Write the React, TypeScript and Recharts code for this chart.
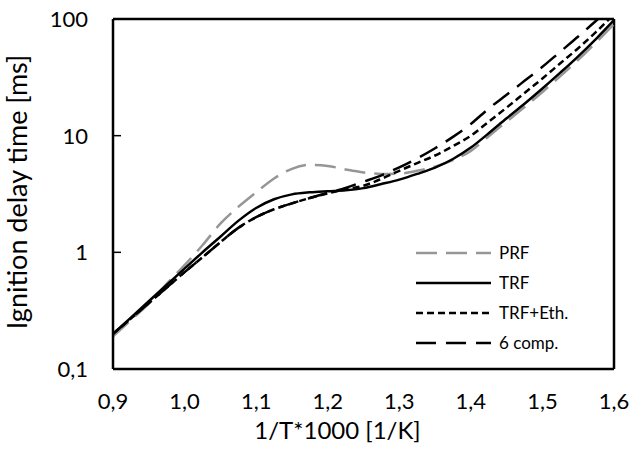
import React from "react";
import { LineChart, Line, XAxis, YAxis, ReferenceLine, Legend, Label } from "recharts";

// 1/T*1000 [1/K]
const xValues = [
  0.9, 0.925, 0.95, 0.975, 1.0, 1.025, 1.05, 1.075, 1.1, 1.125, 1.15, 1.175, 1.2, 1.225, 1.25,
  1.275, 1.3, 1.325, 1.35, 1.375, 1.4, 1.425, 1.45, 1.475, 1.5, 1.525, 1.55, 1.575, 1.6,
];

// ignition delay time [ms]
const prf = [
  0.19, 0.263, 0.363, 0.537, 0.776, 1.15, 1.76, 2.45, 3.27, 4.3, 5.19, 5.62, 5.5, 5.13, 4.84,
  4.7, 4.73, 5.0, 5.43, 6.17, 7.41, 9.9, 13.2, 17.6, 23.7, 32.4, 44.7, 63.1, 90.2,
];
const trf = [
  0.2, 0.276, 0.381, 0.526, 0.726, 1.0, 1.36, 1.86, 2.4, 2.85, 3.14, 3.27, 3.34, 3.4, 3.55,
  3.85, 4.2, 4.7, 5.33, 6.31, 7.9, 10.5, 14.1, 18.8, 25.4, 34.7, 47.9, 67.6, 97.7,
];
const trfEth = [
  0.2, 0.271, 0.367, 0.498, 0.676, 0.906, 1.22, 1.62, 2.0, 2.34, 2.63, 2.92, 3.2, 3.47, 3.72,
  4.27, 5.0, 5.82, 6.76, 8.13, 10.0, 13.2, 17.4, 23.2, 30.9, 41.7, 56.2, 77.6, 110,
];
const sixComp = [
  0.2, 0.271, 0.367, 0.498, 0.676, 0.906, 1.22, 1.62, 2.0, 2.34, 2.63, 2.92, 3.24, 3.57, 4.03,
  4.57, 5.35, 6.38, 7.8, 9.77, 12.6, 17.1, 22.4, 29.5, 38.9, 52.5, 70.8, 96.6, 132,
];

const xTicks = [0.9, 1.0, 1.1, 1.2, 1.3, 1.4, 1.5, 1.6];
const yTicks = [0.1, 1, 10, 100];

const series = [
  { key: "prf", name: "PRF", color: "#969696", dash: "21 9" },
  { key: "trf", name: "TRF", color: "#000000", dash: undefined },
  { key: "eth", name: "TRF+Eth.", color: "#000000", dash: "7 4" },
  { key: "six", name: "6 comp.", color: "#000000", dash: "20 10" },
];

const data = xValues.map((x, i) => ({
  x,
  prf: prf[i],
  trf: trf[i],
  eth: trfEth[i],
  six: sixComp[i],
}));

const comma = (v: number, digits: number) => v.toFixed(digits).replace(".", ",");

const XTick = (props: any) => {
  const { x, y, payload } = props;
  return (
    <text x={x} y={y + 40} textAnchor="middle" fontSize={22} fill="#000">
      {comma(payload.value, 1)}
    </text>
  );
};

const YTick = (props: any) => {
  const { x, y, payload } = props;
  const v = payload.value;
  return (
    <g>
      <line x1={x} y1={y} x2={x + 8} y2={y} stroke="#000" strokeWidth={1.5} />
      <text x={x - 25} y={y + 8} textAnchor="end" fontSize={22} fill="#000">
        {v < 1 ? comma(v, 1) : String(v)}
      </text>
    </g>
  );
};

const XTitle = (props: any) => {
  const vb = props.viewBox || { x: 113, y: 369, width: 501 };
  return (
    <text x={vb.x + vb.width / 2 - 26} y={vb.y + 70} textAnchor="middle" fontSize={24} fill="#000">
      1/T*1000 [1/K]
    </text>
  );
};

const YTitle = (props: any) => {
  const vb = props.viewBox || { x: 0, y: 19, height: 350 };
  const cx = vb.x + 27;
  const cy = vb.y + vb.height / 2 - 2;
  return (
    <text
      x={cx}
      y={cy}
      transform={`rotate(-90, ${cx}, ${cy})`}
      textAnchor="middle"
      fontSize={27}
      fill="#000"
    >
      Ignition delay time [ms]
    </text>
  );
};

const LegendBox = () => (
  <div style={{ fontFamily: "Lato, sans-serif", fontSize: 17, color: "#000" }}>
    {series.map((s) => (
      <div key={s.key} style={{ display: "flex", alignItems: "center", height: 30 }}>
        <svg width={75} height={30}>
          <line x1={0} y1={15} x2={75} y2={15} stroke={s.color} strokeWidth={2.5} strokeDasharray={s.dash} />
        </svg>
        <span style={{ marginLeft: 8, lineHeight: "30px" }}>{s.name}</span>
      </div>
    ))}
  </div>
);

const IgnitionDelayChart = () => {
  return (
    <div style={{ position: "absolute", left: 0, top: 0, background: "#fff" }}>
      <LineChart
        width={632}
        height={453}
        data={data}
        margin={{ top: 19, right: 18, bottom: 0, left: 0 }}
        style={{ fontFamily: "Lato, sans-serif" }}
      >
        <XAxis
          dataKey="x"
          type="number"
          domain={[0.9, 1.6]}
          ticks={xTicks}
          height={84}
          tickSize={0}
          tickMargin={0}
          tickLine={false}
          tick={<XTick />}
          axisLine={{ stroke: "#000", strokeWidth: 2.5 }}
        >
          <Label content={<XTitle />} />
        </XAxis>
        <YAxis
          type="number"
          scale="log"
          domain={[0.1, 100]}
          allowDataOverflow
          ticks={yTicks}
          width={113}
          tickSize={0}
          tickMargin={0}
          tickLine={false}
          tick={<YTick />}
          axisLine={{ stroke: "#000", strokeWidth: 2.5 }}
        >
          <Label content={<YTitle />} />
        </YAxis>
        <ReferenceLine y={100} stroke="#000" strokeWidth={2.5} />
        <ReferenceLine x={1.6} stroke="#000" strokeWidth={2.5} />
        {series.map((s) => (
          <Line
            key={s.key}
            type="monotone"
            dataKey={s.key}
            name={s.name}
            stroke={s.color}
            strokeWidth={2.5}
            strokeDasharray={s.dash}
            dot={false}
            activeDot={false}
            isAnimationActive={false}
          />
        ))}
        <Legend
          layout="vertical"
          align="center"
          verticalAlign="middle"
          content={<LegendBox />}
          wrapperStyle={{ left: 416, top: 238, width: 200 }}
        />
      </LineChart>
    </div>
  );
};

export default function App() {
  return <IgnitionDelayChart />;
}
